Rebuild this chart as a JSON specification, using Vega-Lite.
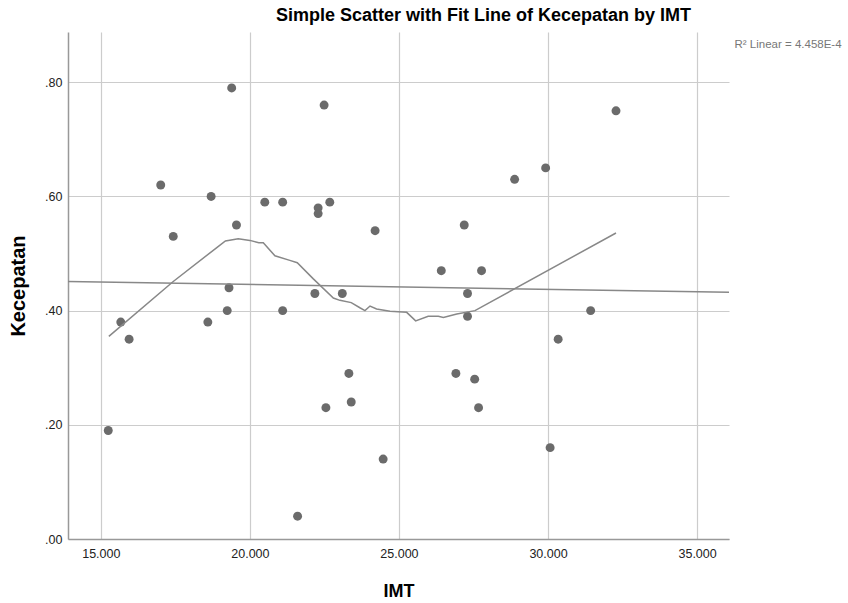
{
  "$schema": "https://vega.github.io/schema/vega-lite/v6.json",
  "autosize": {"type": "none"},
  "padding": {"left": 68, "top": 32, "right": 119, "bottom": 64},
  "width": 661,
  "height": 507,
  "background": "white",
  "title": {
    "text": "Simple Scatter with Fit Line of Kecepatan by IMT",
    "font": "Liberation Sans",
    "fontSize": 18,
    "fontWeight": "bold",
    "color": "#000000",
    "anchor": "middle",
    "dx": 85,
    "offset": 7
  },
  "config": {
    "view": {"stroke": null},
    "font": "Liberation Sans",
    "axis": {
      "labelFont": "Liberation Sans",
      "labelFontSize": 12.5,
      "labelColor": "#222222",
      "titleFont": "Liberation Sans",
      "titleFontSize": 18,
      "titleFontWeight": "bold",
      "titleColor": "#000000",
      "gridColor": "#cccccc",
      "gridWidth": 1.2,
      "domainColor": "#999999",
      "domainWidth": 1.5,
      "ticks": false
    }
  },
  "datasets": {
    "points": [
      {"IMT": 15.25, "Kecepatan": 0.19},
      {"IMT": 15.67, "Kecepatan": 0.38},
      {"IMT": 15.95, "Kecepatan": 0.35},
      {"IMT": 17.01, "Kecepatan": 0.62},
      {"IMT": 17.43, "Kecepatan": 0.53},
      {"IMT": 18.59, "Kecepatan": 0.38},
      {"IMT": 18.70, "Kecepatan": 0.60},
      {"IMT": 19.24, "Kecepatan": 0.40},
      {"IMT": 19.30, "Kecepatan": 0.44},
      {"IMT": 19.39, "Kecepatan": 0.79},
      {"IMT": 19.55, "Kecepatan": 0.55},
      {"IMT": 20.50, "Kecepatan": 0.59},
      {"IMT": 21.10, "Kecepatan": 0.59},
      {"IMT": 21.10, "Kecepatan": 0.40},
      {"IMT": 21.60, "Kecepatan": 0.04},
      {"IMT": 22.18, "Kecepatan": 0.43},
      {"IMT": 22.29, "Kecepatan": 0.58},
      {"IMT": 22.29, "Kecepatan": 0.57},
      {"IMT": 22.49, "Kecepatan": 0.76},
      {"IMT": 22.55, "Kecepatan": 0.23},
      {"IMT": 22.68, "Kecepatan": 0.59},
      {"IMT": 23.10, "Kecepatan": 0.43},
      {"IMT": 23.32, "Kecepatan": 0.29},
      {"IMT": 23.40, "Kecepatan": 0.24},
      {"IMT": 24.20, "Kecepatan": 0.54},
      {"IMT": 24.47, "Kecepatan": 0.14},
      {"IMT": 26.42, "Kecepatan": 0.47},
      {"IMT": 26.91, "Kecepatan": 0.29},
      {"IMT": 27.19, "Kecepatan": 0.55},
      {"IMT": 27.30, "Kecepatan": 0.43},
      {"IMT": 27.30, "Kecepatan": 0.39},
      {"IMT": 27.54, "Kecepatan": 0.28},
      {"IMT": 27.67, "Kecepatan": 0.23},
      {"IMT": 27.77, "Kecepatan": 0.47},
      {"IMT": 28.88, "Kecepatan": 0.63},
      {"IMT": 29.92, "Kecepatan": 0.65},
      {"IMT": 30.07, "Kecepatan": 0.16},
      {"IMT": 30.34, "Kecepatan": 0.35},
      {"IMT": 31.43, "Kecepatan": 0.40},
      {"IMT": 32.28, "Kecepatan": 0.75}
    ],
    "loess": [
      {"IMT": 15.27, "Kecepatan": 0.355},
      {"IMT": 17.43, "Kecepatan": 0.451},
      {"IMT": 18.88, "Kecepatan": 0.510},
      {"IMT": 19.18, "Kecepatan": 0.522},
      {"IMT": 19.61, "Kecepatan": 0.526},
      {"IMT": 20.00, "Kecepatan": 0.523},
      {"IMT": 20.30, "Kecepatan": 0.519},
      {"IMT": 20.45, "Kecepatan": 0.519},
      {"IMT": 20.84, "Kecepatan": 0.496},
      {"IMT": 21.34, "Kecepatan": 0.488},
      {"IMT": 21.59, "Kecepatan": 0.484},
      {"IMT": 22.12, "Kecepatan": 0.456},
      {"IMT": 22.80, "Kecepatan": 0.422},
      {"IMT": 23.02, "Kecepatan": 0.418},
      {"IMT": 23.40, "Kecepatan": 0.414},
      {"IMT": 23.69, "Kecepatan": 0.405},
      {"IMT": 23.86, "Kecepatan": 0.400},
      {"IMT": 24.03, "Kecepatan": 0.408},
      {"IMT": 24.25, "Kecepatan": 0.403},
      {"IMT": 24.70, "Kecepatan": 0.399},
      {"IMT": 25.26, "Kecepatan": 0.397},
      {"IMT": 25.56, "Kecepatan": 0.382},
      {"IMT": 25.98, "Kecepatan": 0.390},
      {"IMT": 26.32, "Kecepatan": 0.390},
      {"IMT": 26.49, "Kecepatan": 0.388},
      {"IMT": 26.94, "Kecepatan": 0.394},
      {"IMT": 27.55, "Kecepatan": 0.400},
      {"IMT": 32.28, "Kecepatan": 0.536}
    ],
    "linear": [
      {"IMT": 13.9, "Kecepatan": 0.451, "fit": "R² Linear = 4.458E-4"},
      {"IMT": 36.07, "Kecepatan": 0.432, "fit": "R² Linear = 4.458E-4"}
    ]
  },
  "encoding": {
    "x": {
      "field": "IMT",
      "type": "quantitative",
      "title": "IMT",
      "scale": {"domain": [13.9, 36.07], "nice": false, "zero": false},
      "axis": {
        "values": [15, 20, 25, 30, 35],
        "format": ".3f",
        "labelPadding": 8,
        "titlePadding": 23
      }
    },
    "y": {
      "field": "Kecepatan",
      "type": "quantitative",
      "title": "Kecepatan",
      "scale": {"domain": [0, 0.888], "nice": false, "zero": false},
      "axis": {
        "values": [0, 0.2, 0.4, 0.6, 0.8],
        "labelExpr": "slice(format(datum.value, '.2f'), 1)",
        "labelPadding": 6,
        "titlePadding": 16,
        "titleFontSize": 20
      }
    }
  },
  "layer": [
    {
      "data": {"name": "points"},
      "mark": {"type": "point", "filled": true, "size": 80, "color": "#6b6b6b", "opacity": 1}
    },
    {
      "data": {"name": "loess"},
      "mark": {"type": "line", "color": "#888888", "strokeWidth": 1.5}
    },
    {
      "data": {"name": "linear"},
      "mark": {"type": "line", "strokeWidth": 1.5},
      "encoding": {
        "color": {
          "field": "fit",
          "type": "nominal",
          "scale": {"range": ["#888888"]},
          "legend": {
            "orient": "right",
            "title": null,
            "offset": -16,
            "padding": 7,
            "symbolOpacity": 0,
            "symbolSize": 0,
            "symbolStrokeWidth": 0,
            "labelOffset": 0,
            "labelFont": "Liberation Sans",
            "labelFontSize": 11.5,
            "labelColor": "#777777"
          }
        }
      }
    }
  ]
}
